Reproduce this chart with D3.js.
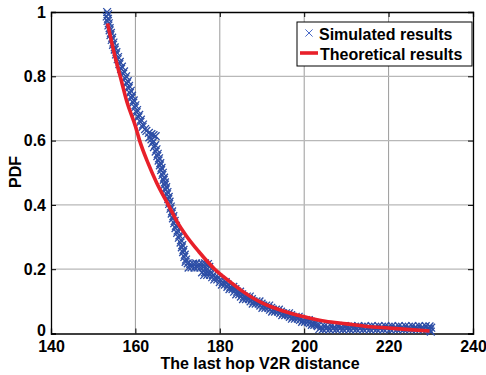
<!DOCTYPE html>
<html><head><meta charset="utf-8">
<script src="https://cdn.jsdelivr.net/npm/d3@7"></script>
<style>body{margin:0;background:#fff}svg{display:block}text{font-family:"Liberation Sans",Arial,sans-serif;font-weight:bold}</style>
</head><body>
<script>
const xTicks = [140,160,180,200,220,240];
const yTicks = [0,0.2,0.4,0.6,0.8,1];
const yTickLabels = ["0","0.2","0.4","0.6","0.8","1"];
const seriesNames = ["Simulated results","Theoretical results"];

// Theoretical curve
const theoX = [153.4,155,156.4,158,160,161,163,165,167.8,170,172,175,178.8,182,185,190,195,200,205,210,215,220,225,229.7];
const theoY = [0.965,0.87,0.80,0.72,0.645,0.60,0.53,0.47,0.40,0.345,0.305,0.255,0.20,0.165,0.135,0.095,0.07,0.052,0.038,0.03,0.022,0.017,0.012,0.008];

// Simulated points [distance, pdf]
const simUpper = [[153.3,1.000],[153.5,0.993],[153.2,0.986],[153.5,0.979],[153.4,0.972],[153.7,0.965],[153.6,0.958],[153.9,0.950],[153.9,0.943],[154.2,0.935],[154.1,0.928],[154.5,0.920],[154.4,0.913],[154.8,0.905],[154.7,0.898],[155.1,0.890],[155.1,0.883],[155.5,0.875],[155.4,0.868],[155.9,0.860],[155.8,0.853],[156.3,0.845],[156.2,0.838],[156.8,0.830],[156.6,0.823],[157.3,0.815],[157.1,0.808],[157.8,0.800],[157.6,0.793],[158.2,0.785],[158.0,0.778],[158.5,0.770],[158.4,0.763],[158.9,0.755],[158.7,0.748],[159.2,0.740],[159.1,0.733],[159.6,0.725],[159.5,0.718],[160.0,0.710],[159.9,0.703],[160.4,0.695],[160.3,0.688],[160.9,0.680],[160.7,0.673],[161.3,0.665],[161.2,0.658],[161.8,0.650],[161.7,0.643],[162.3,0.636],[162.6,0.630],[163.2,0.624],[163.8,0.620],[164.3,0.617],[164.8,0.614],[163.3,0.610],[163.8,0.604],[164.3,0.598],[164.0,0.592],[164.7,0.586],[164.4,0.580],[165.0,0.573],[164.8,0.566],[165.3,0.559],[165.2,0.552],[165.6,0.545],[165.5,0.538],[165.9,0.530],[165.8,0.523],[166.2,0.515],[166.1,0.508],[166.5,0.500],[166.4,0.493],[166.8,0.485],[166.7,0.478],[167.0,0.470],[167.0,0.463],[167.3,0.455],[167.2,0.448],[167.6,0.440],[167.5,0.433],[167.9,0.425],[167.8,0.418],[168.1,0.410],[168.0,0.403],[168.4,0.395],[168.3,0.388],[168.7,0.380],[168.6,0.373],[169.0,0.365],[168.9,0.358],[169.3,0.350],[169.2,0.343],[169.6,0.335],[169.5,0.328],[170.0,0.320],[169.9,0.313],[170.4,0.305],[170.3,0.298],[170.8,0.290],[170.7,0.283],[171.1,0.275],[171.0,0.268],[171.4,0.260],[171.3,0.253],[171.7,0.245],[171.6,0.238],[172.0,0.230],[171.9,0.223]];
const simPlateau = [[172.4,0.218],[172.6,0.205],[173.0,0.216],[173.3,0.206],[173.7,0.217],[174.0,0.205],[174.4,0.218],[174.7,0.206],[175.1,0.216],[175.4,0.205],[175.8,0.217],[176.1,0.206],[176.5,0.218],[176.8,0.205],[177.2,0.216],[177.5,0.207]];
const simSteps = [[175.8,0.19],[176.5,0.19],[177.2,0.19],[177.9,0.19],[176.3,0.182],[177.0,0.182],[177.7,0.182],[178.4,0.182],
[178.2,0.175],[178.9,0.175],[179.6,0.175],[178.7,0.168],[179.4,0.168],[180.1,0.168],
[180.0,0.16],[180.7,0.16],[181.4,0.16],[180.5,0.152],[181.2,0.152],[181.9,0.152],
[181.8,0.145],[182.5,0.145],[183.2,0.145],[182.3,0.138],[183.0,0.138],[183.7,0.138],
[183.4,0.13],[184.1,0.13],[184.8,0.13],[183.9,0.122],[184.6,0.122],[185.3,0.122],
[185.0,0.115],[185.7,0.115],[186.4,0.115],[187.1,0.115],[185.5,0.107],[186.2,0.107],[186.9,0.107],[187.6,0.107],
[187.3,0.1],[188.0,0.1],[188.7,0.1],[189.4,0.1],[187.8,0.093],[188.5,0.093],[189.2,0.093],[189.9,0.093],
[189.6,0.087],[190.3,0.087],[191.0,0.087],[191.7,0.087],[190.1,0.08],[190.8,0.08],[191.5,0.08],[192.2,0.08],
[191.9,0.074],[192.6,0.074],[193.3,0.074],[194.0,0.074],[192.4,0.068],[193.1,0.068],[193.8,0.068],[194.5,0.068],
[194.3,0.063],[195.0,0.063],[195.7,0.063],[196.4,0.063],[194.8,0.057],[195.5,0.057],[196.2,0.057],[196.9,0.057],
[196.6,0.052],[197.3,0.052],[198.0,0.052],[198.7,0.052],[197.1,0.046],[197.8,0.046],[198.5,0.046],[199.2,0.046],
[199.0,0.042],[199.7,0.042],[200.4,0.042],[201.1,0.042],[199.5,0.036],[200.2,0.036],[200.9,0.036],[201.6,0.036],
[201.3,0.032],[202.0,0.032],[202.6,0.032],[201.8,0.027],[202.4,0.027],[203.0,0.027]];
const simTail = [[203.2,0.023],[204.0,0.021],[204.8,0.023],[205.6,0.021],[206.4,0.023],[207.2,0.021],[208.0,0.023],[208.8,0.021],[209.6,0.023],[210.4,0.021],[211.2,0.023],[212.0,0.021],[212.8,0.023],[213.6,0.021],[214.4,0.023],[215.2,0.021],[216.0,0.023],[216.8,0.021],[217.6,0.023],[218.4,0.021],[219.2,0.023],[220.0,0.021],[220.8,0.023],[221.6,0.021],[222.4,0.023],[223.2,0.021],[224.0,0.023],[224.8,0.021],[225.6,0.023],[226.4,0.021],[227.2,0.023],[228.0,0.021],[228.8,0.023],
[203.6,0.014],[204.4,0.013],[205.2,0.014],[206.0,0.013],[206.8,0.014],[207.6,0.013],[208.4,0.014],[209.2,0.013],[210.0,0.014],[210.8,0.013],[211.6,0.014],[212.4,0.013],[213.2,0.014],[214.0,0.013],[214.8,0.014],[215.6,0.013],[216.4,0.014],[217.2,0.013],[218.0,0.014],[218.8,0.013],[219.6,0.014],[220.4,0.013],[221.2,0.014],[222.0,0.013],[222.8,0.014],[223.6,0.013],[224.4,0.014],[225.2,0.013],[226.0,0.014],[226.8,0.013],[227.6,0.014],[228.4,0.013],[229.2,0.014],
[229.5,0.015],[229.8,0.01],[230.0,0.006],[229.7,0.022],[230.1,0.018]];

const W = 486, H = 375;
const L = 51, R = 473, T = 12, B = 333.5;
const blue = "#2d4ea6", red = "#e8202a";

const svg = d3.select("body").append("svg").attr("width", W).attr("height", H);
const x = d3.scaleLinear().domain([140,240]).range([L,R]);
const y = d3.scaleLinear().domain([0,1]).range([B,T]);

// grid
svg.append("g").selectAll("line").data(xTicks.slice(1,-1)).join("line")
  .attr("x1", d=>x(d)).attr("x2", d=>x(d)).attr("y1", T).attr("y2", B)
  .attr("stroke", "#9a9a9a").attr("stroke-width", 1);
svg.append("g").selectAll("line").data(yTicks.slice(1,-1)).join("line")
  .attr("x1", L).attr("x2", R).attr("y1", d=>y(d)).attr("y2", d=>y(d))
  .attr("stroke", "#b8b8b8").attr("stroke-width", 1.2);

// axes
const fmtY = d=>yTickLabels[yTicks.indexOf(d)];
const gx = svg.append("g").attr("transform", `translate(0,${B})`)
  .call(d3.axisBottom(x).tickValues(xTicks).tickSize(-5).tickPadding(7).tickFormat(d3.format("d")));
const gy = svg.append("g").attr("transform", `translate(${L},0)`)
  .call(d3.axisLeft(y).tickValues(yTicks).tickSize(-5).tickPadding(4).tickFormat(fmtY));
const gxt = svg.append("g").attr("transform", `translate(0,${T})`)
  .call(d3.axisTop(x).tickValues(xTicks).tickSize(-5).tickFormat(""));
const gyr = svg.append("g").attr("transform", `translate(${R},0)`)
  .call(d3.axisRight(y).tickValues(yTicks).tickSize(-5).tickFormat(""));
[gx,gy,gxt,gyr].forEach(g=>{
  g.select(".domain").attr("stroke","#000").attr("stroke-width",1.3);
  g.selectAll(".tick line").attr("stroke","#000");
  g.selectAll("text").attr("fill","#000").style("font-size","16px").style("font-weight","bold")
   .style("font-family",'"Liberation Sans",Arial,sans-serif');
});
gy.selectAll(".tick text").attr("dx", "-1");
gy.selectAll(".tick text").filter(d=>d===0).attr("dy", "0.12em");

// scatter markers
const xs = 3.9;
const pts = simUpper.concat(simPlateau, simSteps, simTail);
svg.append("g").selectAll("path").data(pts).join("path")
  .attr("d", d=>{const px=x(d[0]), py=y(d[1]);
    return `M${px-xs},${py-xs}L${px+xs},${py+xs}M${px-xs},${py+xs}L${px+xs},${py-xs}`;})
  .attr("stroke", blue).attr("stroke-width", 1.3).attr("fill","none");

// theoretical line
const line = d3.line().x((d,i)=>x(theoX[i])).y((d,i)=>y(theoY[i])).curve(d3.curveMonotoneX);
svg.append("path").datum(theoX).attr("d", line)
  .attr("fill","none").attr("stroke", red).attr("stroke-width", 3.6);

// legend
const lg = svg.append("g");
lg.append("rect").attr("x",297).attr("y",22).attr("width",175).attr("height",44)
  .attr("fill","#fff").attr("stroke","#000").attr("stroke-width",1);
const mx=309, my=33, ms=3.6;
lg.append("path").attr("d",`M${mx-ms},${my-ms}L${mx+ms},${my+ms}M${mx-ms},${my+ms}L${mx+ms},${my-ms}`)
  .attr("stroke","#4a6ac8").attr("stroke-width",1);
lg.append("line").attr("x1",300).attr("x2",318).attr("y1",53).attr("y2",53)
  .attr("stroke",red).attr("stroke-width",3.6);
lg.append("text").attr("x",319).attr("y",40).style("font-size","16px").text(seriesNames[0]);
lg.append("text").attr("x",320).attr("y",60).style("font-size","16px").text(seriesNames[1]);

// axis titles
svg.append("text").attr("x", (L+R)/2 - 2).attr("y", 369).attr("text-anchor","middle")
  .style("font-size","16px").text("The last hop V2R distance");
svg.append("text").attr("transform","translate(21,172) rotate(-90)").attr("text-anchor","middle")
  .style("font-size","16px").text("PDF");
</script>
</body></html>
